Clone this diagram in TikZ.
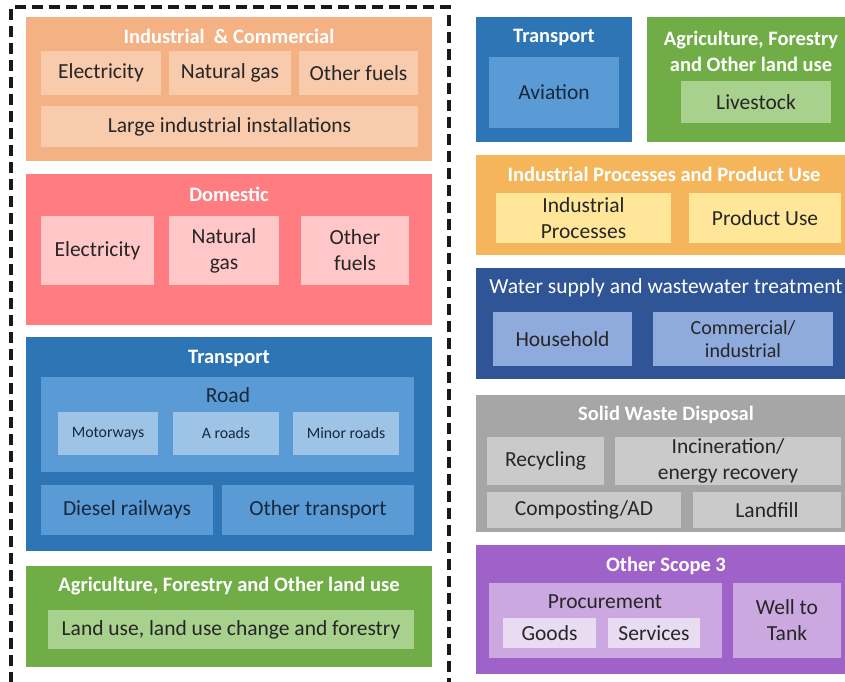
\documentclass[tikz,border=0pt]{standalone}
\usepackage{fontspec}
\setmainfont{Carlito}
% fills
\definecolor{icO}{HTML}{F4B183}\definecolor{icS}{HTML}{F8CBAD}
\definecolor{doO}{HTML}{FF7C80}\definecolor{doS}{HTML}{FFC7C7}
\definecolor{trO}{HTML}{2E75B6}\definecolor{trM}{HTML}{5B9BD5}\definecolor{trL}{HTML}{9DC3E6}
\definecolor{agO}{HTML}{70AD47}\definecolor{agS}{HTML}{A9D18E}
\definecolor{ipO}{HTML}{F5B65B}\definecolor{ipS}{HTML}{FFE699}
\definecolor{waO}{HTML}{2F5597}\definecolor{waS}{HTML}{8FAADC}
\definecolor{swO}{HTML}{A6A6A6}\definecolor{swS}{HTML}{CACACA}
\definecolor{osO}{HTML}{9E62C8}\definecolor{osM}{HTML}{CCA8E0}\definecolor{osL}{HTML}{E9DBF2}
\definecolor{txt}{HTML}{262626}\definecolor{txtB}{HTML}{17283D}
\newcommand\lblfont{\fontsize{21.5}{26}\selectfont}
\newcommand\ttlfont{\fontsize{20.5}{26}\selectfont\bfseries}
\newcommand\smlfont{\fontsize{15.8}{18}\selectfont}
% box from corner (x1,y1) to corner (x2,y2)
\newcommand\Bx[7][]{\node[blk,#1,minimum width={(#5)-(#3)},minimum height={(#6)-(#4)}] (#2) at ({((#3)+(#5))/2},{((#4)+(#6))/2}) {#7};}
\begin{document}
\begin{tikzpicture}[x=1pt,y=-1pt,
  blk/.style={inner sep=0pt,outer sep=0pt,align=center,text=txt,font=\lblfont},
  ttl/.style={inner sep=0pt,align=center,text=white,font=\ttlfont},
  ttlreg/.style={inner sep=0pt,align=center,text=white,font=\lblfont},
  small/.style={font=\smlfont},
  dashframe/.style={draw=black!90,line width=3.2pt,dash pattern=on 11pt off 6pt}]
\useasboundingbox (0,0) rectangle (845,681);
\clip (0,0) rectangle (845,681);

% ---- frame around the left column
\coordinate (fbl) at (11,700);
\coordinate (ftl) at (11,7);
\coordinate (ftr) at (449,7);
\coordinate (fbr) at (449,700);
\draw[dashframe] (fbl) -- (ftl) -- (ftr) -- (fbr);

% ---- Industrial & Commercial
\Bx[fill=icO]{ic}{26}{17}{432}{161}{}
\node[ttl] (ic-t) at (229,36) {Industrial\ \ \& Commercial};
\Bx[fill=icS]{ic-el}{41}{51}{161}{95}{Electricity}
\Bx[fill=icS]{ic-ng}{169}{51}{291}{95}{Natural gas}
\Bx[fill=icS]{ic-of}{299}{51}{418}{95}{Other fuels}
\Bx[fill=icS]{ic-li}{41}{106}{418}{147}{Large industrial installations}

% ---- Domestic
\Bx[fill=doO]{do}{26}{174}{432}{325}{}
\node[ttl] (do-t) at (229,194) {Domestic};
\Bx[fill=doS]{do-el}{41}{216}{154}{285}{Electricity}
\Bx[fill=doS]{do-ng}{169}{216}{279}{285}{Natural\\gas}
\Bx[fill=doS]{do-of}{301}{216}{409}{285}{Other\\fuels}

% ---- Transport (ground)
\Bx[fill=trO]{tr}{26}{337}{432}{551}{}
\node[ttl] (tr-t) at (229,358) {Transport};
\Bx[fill=trM]{road}{41}{377}{414}{472}{}
\node[blk,text=txtB] (road-t) at (228,395) {Road};
\Bx[fill=trL,small,text=txtB]{mw}{58}{412}{158}{455}{Motorways}
\Bx[fill=trL,small,text=txtB]{ar}{173}{412}{279}{455}{A roads}
\Bx[fill=trL,small,text=txtB]{mr}{293}{412}{399}{455}{Minor roads}
\Bx[fill=trM,text=txtB]{rail}{41}{485}{213}{535}{Diesel railways}
\Bx[fill=trM,text=txtB]{otr}{222}{485}{414}{535}{Other transport}

% ---- Agriculture (land use)
\Bx[fill=agO]{ag}{26}{566}{432}{667}{}
\node[ttl] (ag-t) at (229,586) {Agriculture, Forestry and Other land use};
\Bx[fill=agS]{lu}{48}{610}{414}{649}{Land use, land use change and forestry}

% ---- Transport (aviation)
\Bx[fill=trO]{tra}{476}{17}{632}{142}{}
\node[ttl] (tra-t) at (554,37) {Transport};
\Bx[fill=trM,text=txtB]{av}{489}{57}{619}{128}{Aviation}

% ---- Agriculture (livestock)
\Bx[fill=agO]{agl}{647}{17}{860}{142}{}
\node[ttl] (agl-t) at (751,51) {Agriculture, Forestry\\and Other land use};
\Bx[fill=agS]{ls}{681}{81}{831}{123}{Livestock}

% ---- Industrial Processes and Product Use
\Bx[fill=ipO]{ip}{476}{155}{860}{255}{}
\node[ttl] (ip-t) at (664,174) {Industrial Processes and Product Use};
\Bx[fill=ipS]{ipp}{496}{193}{671}{243}{Industrial\\Processes}
\Bx[fill=ipS]{pu}{689}{193}{841}{243}{Product Use}

% ---- Water supply and wastewater treatment
\Bx[fill=waO]{wa}{476}{268}{860}{379}{}
\node[ttlreg] (wa-t) at (666,288) {Water supply and wastewater treatment};
\Bx[fill=waS]{hh}{493}{312}{632}{366}{Household}
\Bx[fill=waS,font=\fontsize{20}{23}\selectfont]{ci}{653}{312}{833}{366}{Commercial/\\industrial}

% ---- Solid Waste Disposal
\Bx[fill=swO]{sw}{476}{395}{860}{532}{}
\node[ttl] (sw-t) at (666,415) {Solid Waste Disposal};
\Bx[fill=swS]{rec}{487}{437}{604}{485}{Recycling}
\Bx[fill=swS]{inc}{615}{437}{841}{485}{Incineration/\\energy recovery}
\Bx[fill=swS]{comp}{487}{492}{681}{528}{Composting/AD}
\Bx[fill=swS]{lf}{693}{492}{841}{528}{Landfill}

% ---- Other Scope 3
\Bx[fill=osO]{os}{476}{545}{860}{674}{}
\node[ttl] (os-t) at (666,566) {Other Scope 3};
\Bx[fill=osM]{proc}{489}{583}{722}{658}{}
\node[blk] (proc-t) at (605,602) {Procurement};
\Bx[fill=osL]{goods}{503}{618}{596}{648}{Goods}
\Bx[fill=osL]{serv}{608}{618}{700}{648}{Services}
\Bx[fill=osM]{wtt}{733}{583}{841}{658}{Well to\\Tank}
\end{tikzpicture}
\end{document}
